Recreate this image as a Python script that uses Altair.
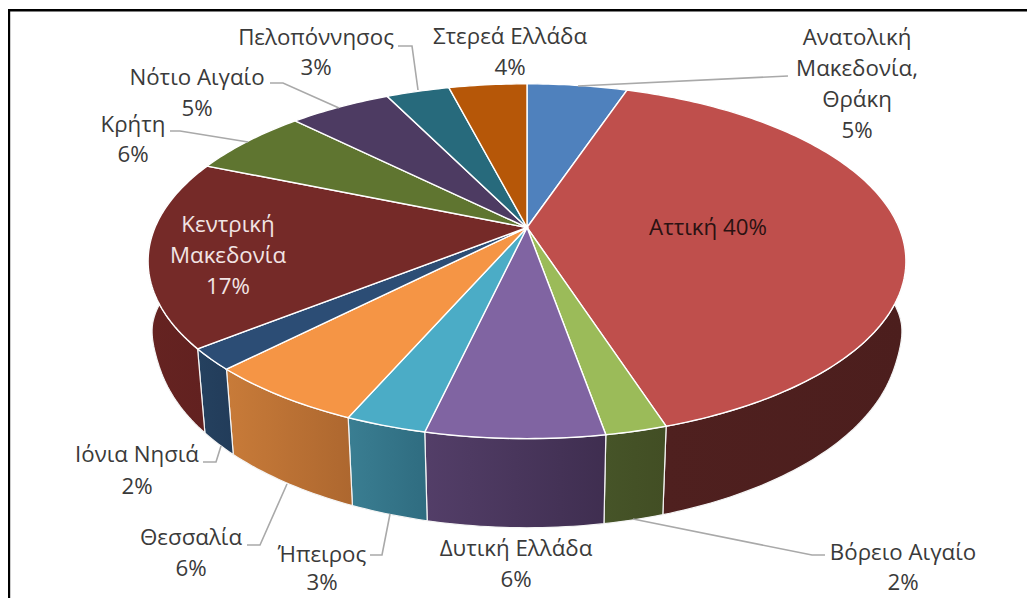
import math
import altair as alt

# ---- data ----
regions = ["Ανατολική Μακεδονία, Θράκη", "Αττική", "Βόρειο Αιγαίο", "Δυτική Ελλάδα", "Ήπειρος", "Θεσσαλία",
           "Ιόνια Νησιά", "Κεντρική Μακεδονία", "Κρήτη", "Νότιο Αιγαίο", "Πελοπόννησος", "Στερεά Ελλάδα"]
shares = [5.14, 39.9, 2.2, 6.35, 2.9, 5.8, 1.95, 17.05, 6.2, 5.25, 3.25, 4.0]
top_colors = ["#4F81BD", "#BF4F4C", "#9BBB59", "#8064A2", "#4BACC6", "#F59545",
              "#2C4D75", "#752A28", "#5F7530", "#4D3B62", "#276A7C", "#B65708"]
wall_left = ["#3A5F8C", "#4F201F", "#465428", "#533E68", "#3A7E92", "#C87B39",
             "#25415F", "#652321", "#46571F", "#3A2C4A", "#1D4F5C", "#873F05"]
wall_right = ["#3A5F8C", "#4C1E1D", "#424E24", "#3F2E50", "#2F6C80", "#AD672F",
              "#223C5A", "#622120", "#46571F", "#3A2C4A", "#1D4F5C", "#873F05"]
label_lines = ["Ανατολική\nΜακεδονία,\nΘράκη\n5%", "Αττική 40%", "Βόρειο Αιγαίο\n2%", "Δυτική Ελλάδα\n6%",
               "Ήπειρος\n3%", "Θεσσαλία\n6%", "Ιόνια Νησιά\n2%", "Κεντρική\nΜακεδονία\n17%",
               "Κρήτη\n6%", "Νότιο Αιγαίο\n5%", "Πελοπόννησος\n3%", "Στερεά Ελλάδα\n4%"]

# ---- layout (page pixels) ----
M = 8
CX, CY = 527.0, 227.5
A, B, K, M_D, H_D = 372.0, 171.0, 0.19, 0.02, 78.2
# centre x, first-line y, line height
label_anchor = [(857, 38, 31), (708, 228, 31), (903, 553, 30), (516, 549, 31), (322, 555, 28), (191, 538, 31),
                (137, 455, 32), (228, 225, 31), (133, 125, 30), (197, 78, 31), (316, 38, 30), (510, 37, 31)]
label_colors = ["#3a3a3a"] * 12
label_colors[7] = "#F2E4E4"
label_colors[1] = "#2a1212"
leaders = [
    [(578, 86), (788, 76)],
    None,
    [(633, 519), (812, 555), (825, 555)],
    None,
    [(390, 514), (382, 555), (370, 555)],
    [(287, 484), (260, 545), (247, 545)],
    [(221, 446), (216, 462), (203, 462)],
    None,
    [(248, 142), (180, 131), (170, 131)],
    [(339, 108), (283, 83), (270, 83)],
    [(418, 90), (412, 46), (398, 46)],
    None,
]
FONT = "Open Sans"
FONT_SIZE = 22.3
W, H = 1019, 590

identity = alt.Projection(type="identity", scale=1, translate=[0, 0])


def project(t_deg, z=0.0):
    t = math.radians(t_deg)
    u, v = math.sin(t), math.cos(t)
    w = 1 + K * v + M_D * z
    # the lower rim bulges a little at its widest part
    bulge = 1 + 0.012 * z * math.exp(-(((v + 0.1) / 0.15) ** 2))
    return [CX + A * u / w * bulge - M, CY + (-B * v + H_D * z) / w - M]


def arc(t0, t1, z=0.0):
    n = max(2, int(abs(t1 - t0)) + 1)
    return [project(t0 + (t1 - t0) * i / n, z) for i in range(n + 1)]


def poly(points):
    pts = points + [points[0]]
    return {"type": "Feature", "properties": {}, "geometry": {"type": "Polygon", "coordinates": [pts]}}


bounds = [0.0]
total = sum(shares)
for s in shares:
    bounds.append(bounds[-1] + s / total * 360)

layers = []

# frame (left and top edges only show in the crop)
frame = alt.Chart(alt.Data(values=[{"a": 1}]))
layers.append(frame.mark_rule(color="#000000", strokeWidth=2.4).encode(
    x=alt.value(1.0), x2=alt.value(1.0), y=alt.value(2.2), y2=alt.value(H)))
layers.append(frame.mark_rule(color="#000000", strokeWidth=2.4).encode(
    x=alt.value(0), x2=alt.value(W), y=alt.value(2.2), y2=alt.value(2.2)))

# outer walls, only the front-facing part
for i in range(12):
    t0, t1 = max(bounds[i], 80), min(bounds[i + 1], 280)
    if t1 <= t0:
        continue
    pts = arc(t0, t1, 0) + arc(t1, t0, 1)
    grad = alt.Gradient(gradient="linear", x1=0, x2=1, y1=0, y2=0,
                        stops=[alt.GradientStop(color=wall_left[i], offset=0),
                               alt.GradientStop(color=wall_right[i], offset=1)])
    layers.append(alt.Chart(alt.Data(values=[poly(pts)])).mark_geoshape(
        fill=grad, stroke="#F4F4F4", strokeWidth=1.2).project(**identity.to_dict()))

# top face
for i in range(12):
    pts = [[CX - M, CY - M]] + arc(bounds[i], bounds[i + 1], 0)
    layers.append(alt.Chart(alt.Data(values=[poly(pts)])).mark_geoshape(
        fill=top_colors[i], stroke="#FFFFFF", strokeWidth=1.4).project(**identity.to_dict()))

# leader lines
for path in leaders:
    if path is None:
        continue
    coords = [[x - M, y - M] for x, y in path]
    feat = {"type": "Feature", "properties": {}, "geometry": {"type": "LineString", "coordinates": coords}}
    layers.append(alt.Chart(alt.Data(values=[feat])).mark_geoshape(
        filled=False, stroke="#A9A9A9", strokeWidth=1.6).project(**identity.to_dict()))

# data labels
for i, txt in enumerate(label_lines):
    x, y, lh = label_anchor[i]
    layers.append(alt.Chart(alt.Data(values=[{"t": txt, "region": regions[i]}])).mark_text(
        font=FONT, fontSize=FONT_SIZE, lineBreak="\n", lineHeight=lh, align="center", baseline="middle",
        color=label_colors[i]).encode(text="t:N", x=alt.value(x - M), y=alt.value(y - M)))

chart = alt.layer(*layers).properties(
    width=W, height=H, padding=0, autosize=alt.AutoSizeParams(type="none"), background="#FFFFFF"
).configure_view(strokeWidth=0)

chart.save("out.html", embed_options={"renderer": "svg", "actions": False})
